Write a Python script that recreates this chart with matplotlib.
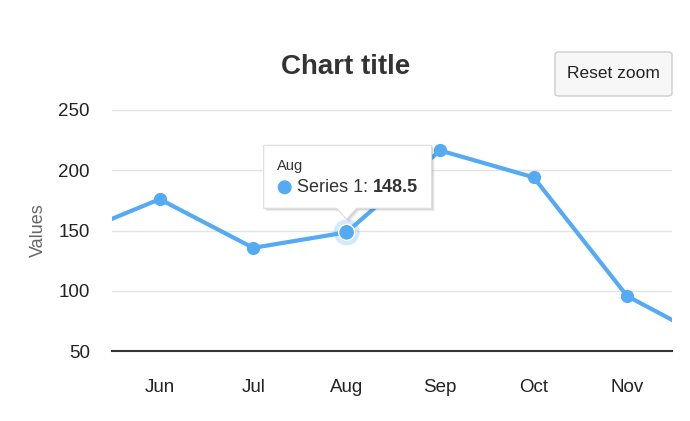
import matplotlib
matplotlib.use("Agg")
import matplotlib.pyplot as plt
from matplotlib.patches import FancyBboxPatch, Polygon, Circle
from matplotlib.transforms import IdentityTransform

plt.rcParams['font.family'] = ['Liberation Sans', 'DejaVu Sans']

months = ['Jan', 'Feb', 'Mar', 'Apr', 'May', 'Jun', 'Jul', 'Aug', 'Sep', 'Oct', 'Nov', 'Dec']
values = [29.9, 71.5, 106.4, 129.2, 144.0, 176.0, 135.6, 148.5, 216.4, 194.1, 95.6, 54.4]
visible_range = (4.49, 10.48)
y_ticks = [50, 100, 150, 200, 250]
hover_index = 7
series_name = 'Series 1'
title = 'Chart title'
y_title = 'Values'

color = '#55aaf4'
W, H = 690, 421
fig = plt.figure(figsize=(W / 100, H / 100), dpi=100)
ax = fig.add_axes([112 / W, 1 - 351 / H, (672 - 112) / W, (351 - 110) / H])

x = list(range(len(months)))
ax.plot(x, values, color=color, lw=3, marker='o', markersize=8.5, solid_joinstyle='round', zorder=3)
ax.set_xticks(x)
ax.set_xticklabels(months)
ax.set_yticks(y_ticks)
ax.set_xlim(*visible_range)
ax.set_ylim(y_ticks[0], y_ticks[-1])
ax.grid(axis='y', color='#e3e3e3', lw=1)
ax.set_axisbelow(True)
for s in ['top', 'right', 'left']:
    ax.spines[s].set_visible(False)
ax.spines['bottom'].set_color('#333333')
ax.spines['bottom'].set_linewidth(1.5)
ax.tick_params(axis='both', length=0, labelsize=13.5, colors='#222222')
ax.tick_params(axis='x', pad=20)
ax.tick_params(axis='y', pad=16)
ax.set_ylabel(y_title, fontsize=13, color='#666666', labelpad=8)

fig.text(346 / W, 1 - 67 / H, title, ha='center', va='center', fontsize=20, fontweight='bold', color='#333333')

# Reset zoom button
fig.patches.append(FancyBboxPatch((555 / W, 1 - 96 / H), (672 - 555) / W, (96 - 52) / H,
                                  boxstyle='round,pad=0,rounding_size=0.006', transform=fig.transFigure,
                                  facecolor='#f7f7f7', edgecolor='#cccccc', lw=1))
fig.text(613 / W, 1 - 74 / H, 'Reset zoom', ha='center', va='center', fontsize=12.5, color='#222222')

# Hover state and tooltip
fig.canvas.draw()
px, py = ax.transData.transform((hover_index, values[hover_index]))
ident = IdentityTransform()
ax.add_patch(Circle((px, py), 13, transform=ident, facecolor=color, alpha=0.25, edgecolor='none', zorder=4, clip_on=False))
ax.add_patch(Circle((px, py), 8, transform=ident, facecolor=color, edgecolor='white', lw=1, zorder=5, clip_on=False))

def P(dx, dy):
    return (px + dx, py - dy)

left, right, top, bottom = -83, 85, -87, -24
tip = -13
outline = [P(left, top), P(right, top), P(right, bottom), P(10, bottom), P(0, tip), P(-10, bottom), P(left, bottom)]
for k, a in [(3, 0.05), (2, 0.07), (1, 0.09)]:
    sh = [(u + k, v - k) for u, v in outline]
    ax.add_patch(Polygon(sh, closed=True, transform=ident, facecolor='black', alpha=a, edgecolor='none', zorder=6, clip_on=False, joinstyle='round'))
ax.add_patch(Polygon(outline, closed=True, transform=ident, facecolor='white', edgecolor='#dddddd', lw=0.8, zorder=7, clip_on=False, joinstyle='round'))

tx, ty = P(left + 13, top + 21)
ax.text(tx, ty, months[hover_index], transform=ident, fontsize=10.5, color='#333333', va='center', ha='left', zorder=8)
cx, cy = P(left + 21, top + 42)
ax.add_patch(Circle((cx, cy), 7, transform=ident, facecolor=color, edgecolor='none', zorder=8, clip_on=False))
t1 = ax.text(cx + 12, cy, f'{series_name}: ', transform=ident, fontsize=13, color='#333333', va='center', ha='left', zorder=8)
fig.canvas.draw()
bb = t1.get_window_extent()
ax.text(bb.x1, cy, f'{values[hover_index]}', transform=ident, fontsize=13, fontweight='bold', color='#333333', va='center', ha='left', zorder=8)

fig.savefig('out.png', dpi=100)
